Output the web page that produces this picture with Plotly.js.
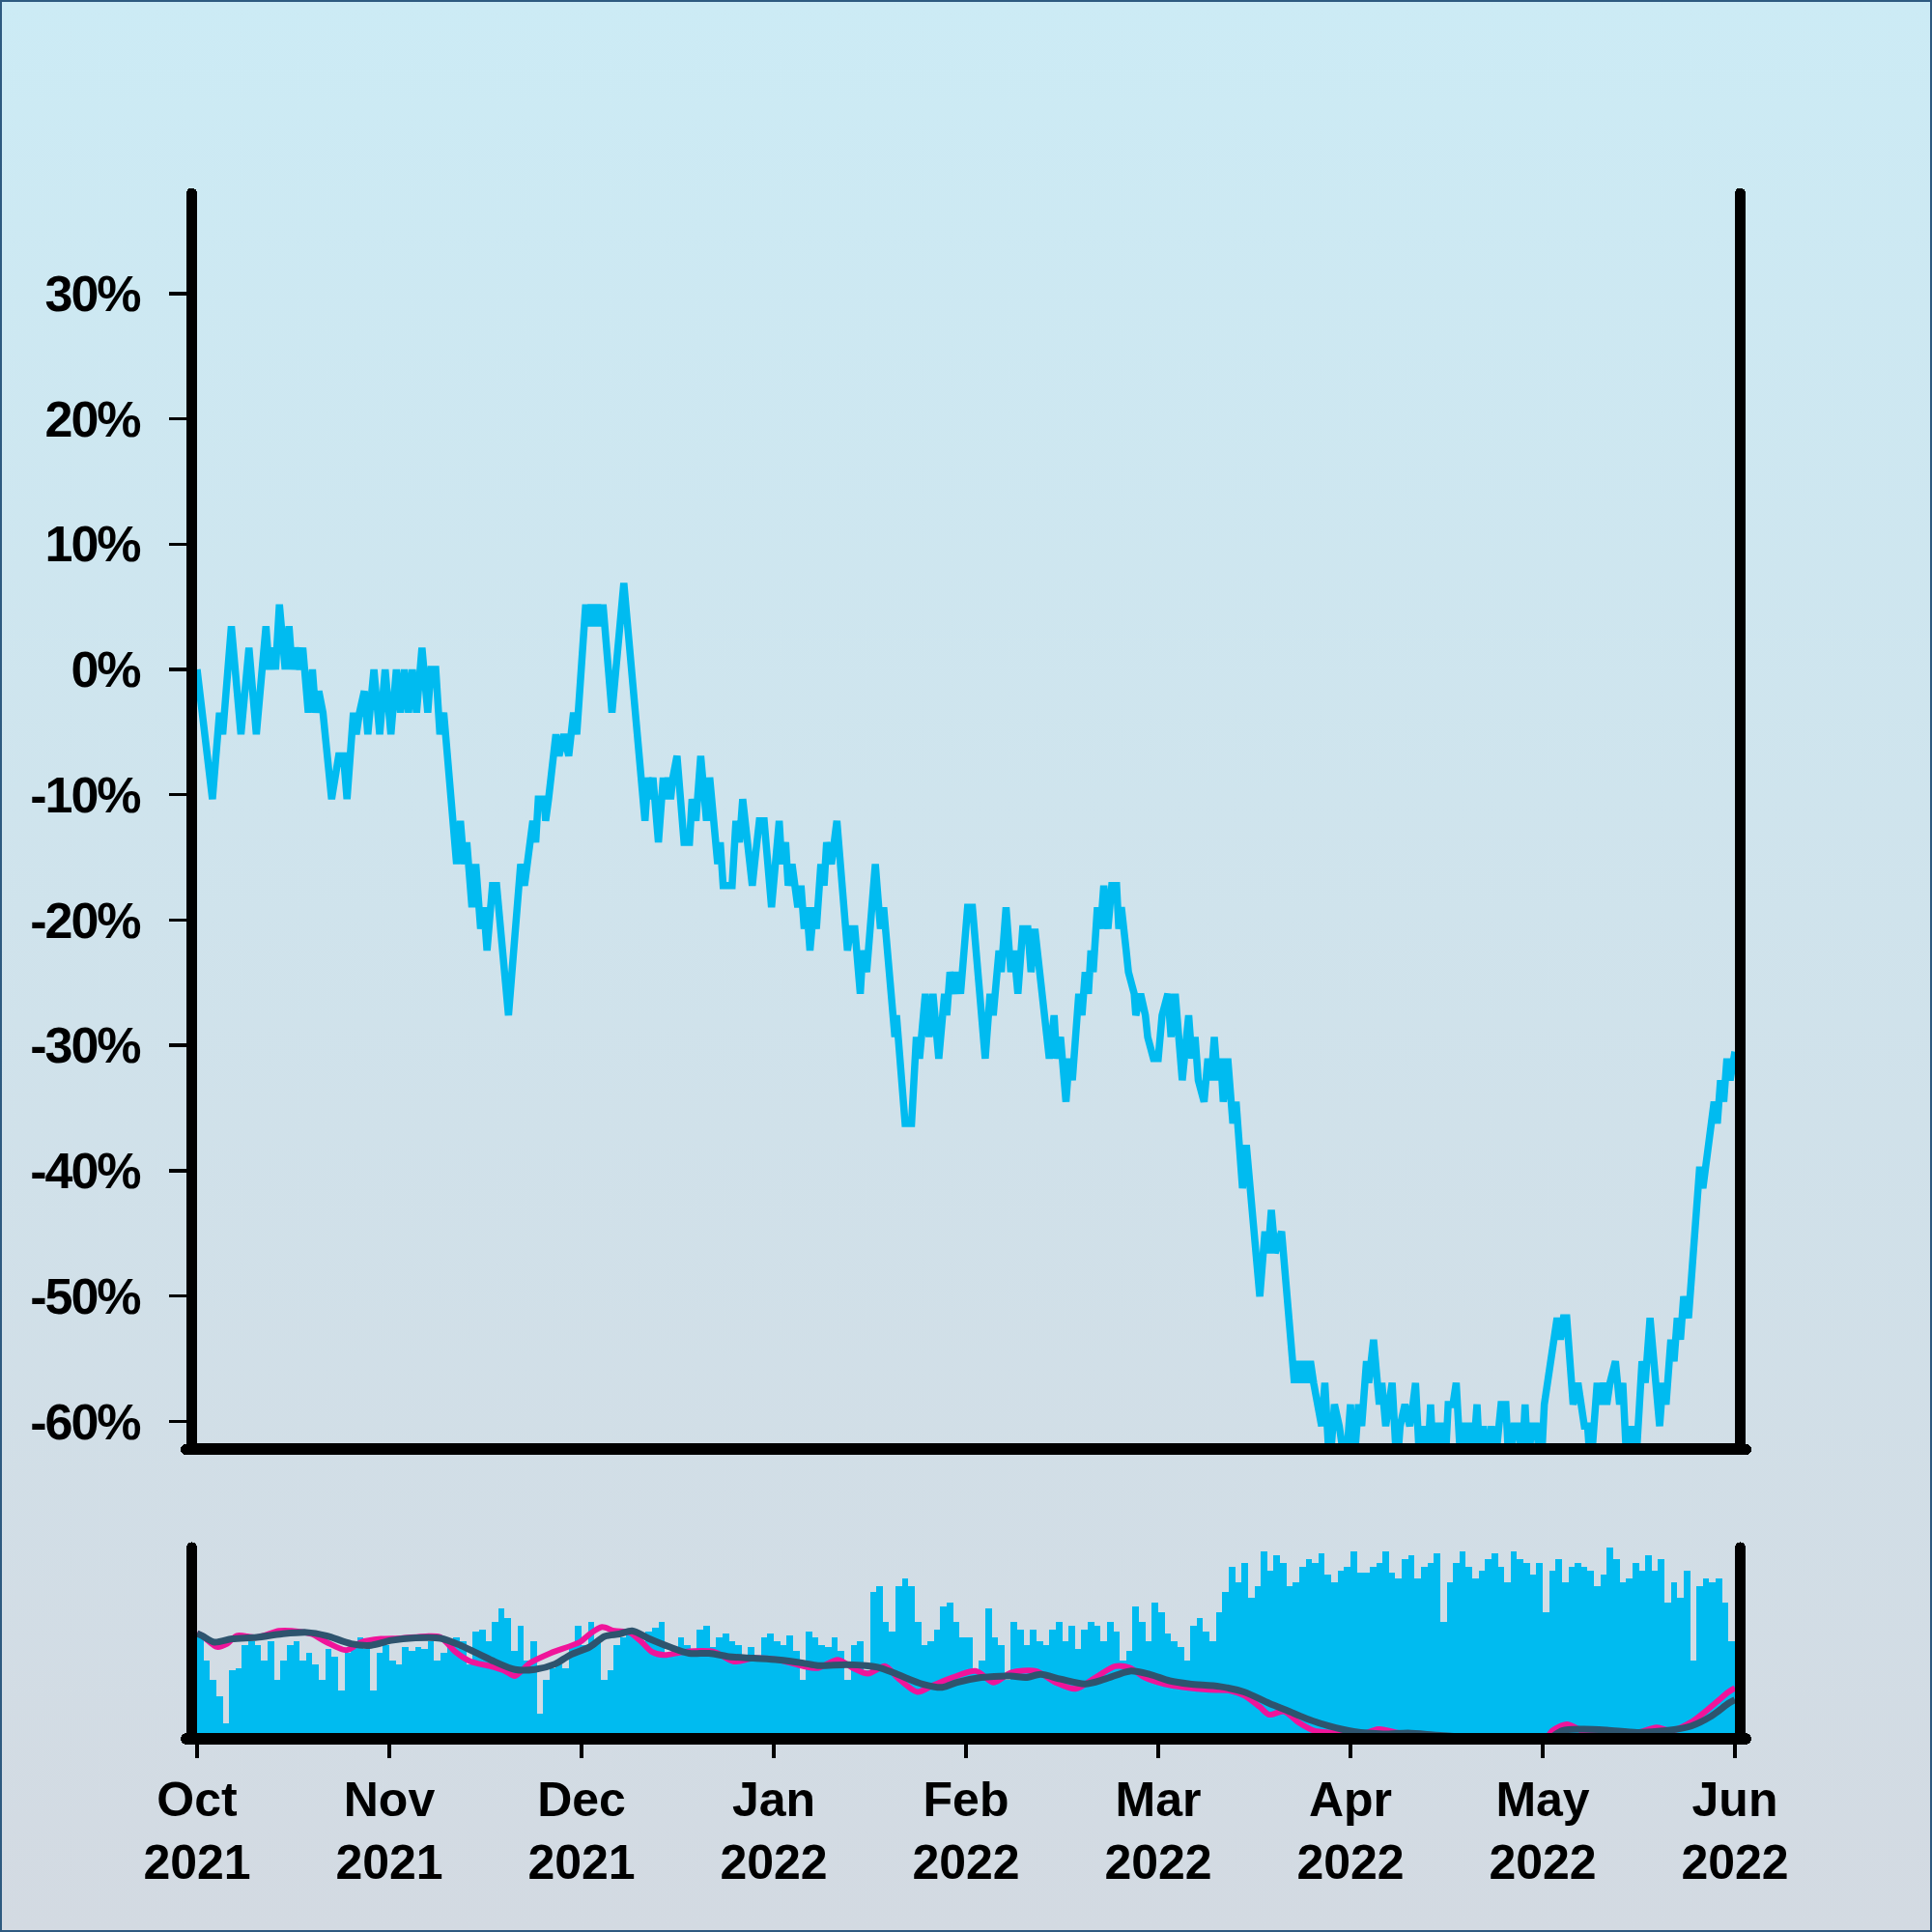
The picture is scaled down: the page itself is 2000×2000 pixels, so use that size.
<!DOCTYPE html>
<html><head><meta charset="utf-8">
<script src="https://cdn.plot.ly/plotly-3.0.1.min.js"></script>
<style>
html,body{margin:0;padding:0;}
#wrap{width:2000px;height:2000px;background:linear-gradient(to bottom,#CCEBF5 0%,#D3DAE2 100%);box-shadow:inset 0 0 0 2px #2E5A80;position:relative;}
#chart{width:2000px;height:2000px;}
.ytick text{letter-spacing:-2px;}
.xtick text{letter-spacing:-3.5px;}
path.xlines-above,path.ylines-above,path.xlines-below,path.ylines-below{stroke-linecap:round;}
</style></head>
<body><div id="wrap"><div id="chart"></div></div>
<script>
const monthTickDays = [0,30,60,90,120,150,180,210,240];
const monthTickLabels = ['Oct<br>2021','Nov<br>2021','Dec<br>2021','Jan<br>2022','Feb<br>2022','Mar<br>2022','Apr<br>2022','May<br>2022','Jun<br>2022'];
const pctTickVals = [30,20,10,0,-10,-20,-30,-40,-50,-60];
const pctTickText = ['30%','20%','10%','0%','-10%','-20%','-30%','-40%','-50%','-60%'];

// [day since 1 Oct, % change]
const pricePoints = [
[0,0],[2.4,-10.35],[3.5,-3.45],[4,-5.18],[5.35,3.45],[6.85,-5.18],[8.1,1.73],[9.25,-5.18],[10.75,3.45],[11.25,0],[11.75,1.73],[12.25,0],[12.85,5.18],[13.75,0],[14.35,3.45],[14.85,0],[15.35,1.73],[16,0],[16.5,1.73],[17.35,-3.45],[18,0],[18.5,-3.45],[19,-1.73],[19.65,-3.45],[21,-10.35],[21.5,-8.63],[22.1,-6.9],[22.85,-6.9],[23.4,-10.35],[24.4,-3.45],[24.85,-5.18],[25.35,-3.45],[26.1,-1.73],[26.65,-5.18],[27.6,0],[28.5,-5.18],[29.35,0],[30.25,-5.18],[31.1,0],[31.75,-3.45],[32.35,0],[33,-3.45],[33.6,0],[34.25,-3.45],[35.1,1.73],[36,-3.45],[36.5,0],[37.25,0],[37.9,-5.18],[38.5,-3.45],[40.5,-15.53],[41.1,-12.08],[41.65,-15.53],[42.1,-13.8],[42.9,-18.98],[43.5,-15.53],[44.25,-20.7],[44.75,-18.98],[45.25,-22.43],[46.1,-17.25],[46.75,-17.25],[48.6,-27.6],[50.5,-15.53],[51.1,-17.25],[51.6,-15.53],[52.4,-12.08],[52.85,-13.8],[53.25,-10.35],[54.15,-10.35],[54.4,-12.08],[54.85,-10.35],[56,-5.18],[56.5,-6.9],[57.25,-5.18],[58,-6.9],[58.75,-3.45],[59.25,-5.18],
[60.65,5.18],[61,3.45],[61.5,5.18],[62,3.45],[62.5,5.18],[63,3.45],[63.35,5.18],[64.75,-3.45],[66.6,6.9],[69.9,-12.08],[70.35,-8.63],[70.75,-10.35],[71.15,-8.63],[72,-13.8],[72.75,-8.63],[73.15,-10.35],[73.5,-8.63],[73.9,-10.35],[74.25,-8.63],[74.9,-6.9],[76,-13.8],[76.85,-13.8],[77.25,-10.35],[77.85,-12.08],[78.6,-6.9],[79.5,-12.08],[80,-8.63],[81.25,-15.53],[81.65,-13.8],[82.1,-17.25],[83.5,-17.25],[84.1,-12.08],[84.65,-13.8],[85.15,-10.35],[86.65,-17.25],[87,-15.53],[87.75,-12.08],[88.5,-12.08],[89.65,-18.98],[90.85,-12.08],[91.25,-15.53],[91.85,-13.8],[92.25,-17.25],[92.85,-15.53],[93.75,-18.98],[94.25,-17.25],[94.75,-20.7],[95.15,-18.98],[95.65,-22.43],[96.25,-18.98],[96.65,-20.7],[97.35,-15.53],[97.85,-17.25],[98.25,-13.8],[99,-15.53],[99.85,-12.08],[101.5,-22.43],[102,-20.7],[102.65,-20.7],[103.5,-25.88],[103.9,-22.43],[104.5,-24.15],[105.85,-15.53],[106.65,-20.7],[107.15,-18.98],[108.9,-29.33],[109.15,-27.6],[110.5,-36.23],[111.5,-36.23],[112.25,-29.33],[112.75,-31.05],[113.65,-25.88],[114.25,-29.33],[114.85,-25.88],[115.75,-31.05],[116.65,-25.88],[117,-27.6],[117.5,-24.15],[118.15,-25.88],[118.65,-24.15],[119.15,-25.88],
[120.25,-18.98],[121,-18.98],[123,-31.05],[123.75,-25.88],[124.25,-27.6],[125.15,-22.43],[125.5,-24.15],[126.25,-18.98],[127,-24.15],[127.5,-22.43],[128.1,-25.88],[128.85,-20.7],[129.65,-20.7],[130.15,-24.15],[130.75,-20.7],[131.75,-25.88],[132.15,-27.6],[133,-31.05],[133.75,-27.6],[134.15,-31.05],[134.75,-29.33],[135.6,-34.5],[136.1,-31.05],[136.6,-32.78],[137.6,-25.88],[138.1,-27.6],[138.6,-24.15],[139.1,-25.88],[139.5,-22.43],[139.85,-24.15],[140.5,-18.98],[141,-20.7],[141.5,-17.25],[142.15,-20.7],[142.75,-17.25],[143.5,-17.25],[143.85,-20.7],[144.25,-18.98],[145,-22.43],[145.35,-24.15],[146.25,-25.88],[146.5,-27.6],[147.25,-25.88],[148,-27.6],[148.35,-29.33],[149.25,-31.05],[150,-31.05],[150.6,-27.6],[151.5,-25.88],[152,-29.33],[152.65,-25.88],[153.75,-32.78],[154.75,-27.6],[155.25,-31.05],[155.75,-29.33],[156.25,-32.78],[157.15,-34.5],[157.75,-31.05],[158.25,-32.78],[158.75,-29.33],[159.25,-32.78],[159.75,-31.05],[160.15,-34.5],[160.85,-31.05],[161.65,-36.23],[162.15,-34.5],[163.15,-41.4],[163.75,-37.95],[165.85,-50.03],[166.65,-44.85],[167.15,-46.58],[167.65,-43.13],[168.25,-46.58],[169.25,-44.85],[171.25,-56.93],[171.75,-55.2],[172.25,-56.93],[172.75,-55.2],[173.25,-56.93],[173.75,-55.2],[174.25,-56.93],[174.75,-58.65],[175.5,-60.38],[176,-56.93],[176.75,-63.83],[177.5,-58.65],[178.25,-60.38],
[179.25,-63.83],[180,-58.65],[180.5,-63.83],[181.25,-58.65],[181.75,-60.38],[182.5,-55.2],[182.85,-56.93],[183.6,-53.48],[184.5,-58.65],[184.9,-56.93],[185.2,-58.65],[185.5,-60.38],[186,-58.65],[186.5,-56.93],[187.25,-63.83],[187.75,-60.38],[188.5,-58.65],[189.25,-60.38],[189.75,-58.65],[190.15,-56.93],[190.85,-63.83],[191.5,-60.38],[192,-63.83],[192.5,-58.65],[193,-63.83],[193.5,-60.38],[194.25,-60.38],[194.75,-63.83],[195.25,-58.65],[196,-58.65],[196.5,-56.93],[197.25,-63.83],[197.75,-60.38],[198.5,-60.38],[199,-63.83],[199.75,-58.65],[200.25,-63.83],[200.75,-60.38],[201.25,-63.83],[202,-60.38],[202.5,-63.83],[203,-60.38],[203.5,-58.65],[204.25,-58.65],[204.75,-63.83],[205.5,-60.38],[206.25,-60.38],[206.75,-63.83],[207.25,-58.65],[207.75,-63.83],[208.25,-60.38],[209,-60.38],[209.75,-63.83],[210.25,-58.65],[210.75,-56.93],[211.25,-55.2],[211.75,-53.48],[212.25,-51.75],[212.75,-53.48],[213.25,-51.75],[213.75,-51.75],[214.25,-55.2],[214.75,-58.65],[215.5,-56.93],[216,-58.65],[216.5,-60.38],[217,-60.38],[217.5,-63.83],[218.5,-56.93],[219,-58.65],[219.5,-56.93],[220,-58.65],[220.5,-56.93],[221.35,-55.2],[222,-58.65],[222.5,-56.93],[223.15,-63.83],[223.9,-60.38],[224.5,-63.83],[225.5,-55.2],[226,-56.93],[226.75,-51.75],[228.25,-60.38],[228.75,-56.93],[229.25,-58.65],[230,-53.48],[230.5,-55.2],[231,-51.75],[231.5,-53.48],[232,-50.03],[232.75,-51.75],[234.5,-39.68],[235,-41.4],[235.5,-39.68],[236.75,-34.5],[237.25,-36.23],[237.75,-32.78],[238.25,-34.5],[238.75,-31.05],[239.25,-32.78],[240,-30.5]
];

// daily volume (relative units)
const volume = [
53,40,30,22,8,35,36,48,50,48,40,50,30,40,48,50,40,44,38,30,46,42,25,44,48,52,46,25,44,48,
40,38,47,45,47,46,50,40,44,48,52,50,38,55,56,50,60,67,62,45,58,40,50,13,30,36,38,36,48,58,
48,60,50,30,35,48,52,56,52,50,55,57,60,44,47,52,48,45,56,58,47,52,54,50,48,42,47,40,52,54,
50,48,53,45,30,55,52,48,47,52,45,30,48,50,35,75,78,60,55,78,82,78,60,48,50,56,68,70,60,52,
52,35,40,67,52,48,30,60,56,48,56,50,48,56,60,50,58,46,56,60,58,50,60,55,40,45,68,60,50,70,
65,54,50,47,40,58,62,55,50,65,75,88,80,90,72,78,96,86,94,90,78,80,88,92,90,95,84,80,86,88,
96,85,85,88,90,96,85,82,92,94,82,88,90,95,60,80,90,96,88,82,86,92,95,88,80,96,92,90,84,90,
65,86,92,80,88,90,88,86,78,84,98,92,80,82,90,86,94,86,92,70,80,72,86,40,78,82,80,82,70,50
];

// moving averages, [day, level on the lower panel scale]
const fastMA = [
[0,54],[0.8,52.8],[3.1,47.1],[4.7,48.7],[6.2,52.8],[9.3,52],[12.8,55.3],[14.75,55.3],[17.85,53.7],[20.2,49.5],[23.3,45.4],[25.6,49.5],[28.7,51.2],[31.8,51.5],[35.7,52.5],[38,52],[40.3,44.6],[42.7,39.6],[45.8,37.2],[48.1,34.7],[49.6,32.2],[51.95,38.8],[55.1,43.8],[59.7,49.5],[61.3,53.7],[63.2,57.3],[65.1,55.3],[67.5,54.5],[69.4,49.5],[70.95,44.6],[72.9,42.9],[76,44.6],[80.65,44.6],[83.75,39.6],[86.85,41.3],[90.7,40.5],[94.6,37.2],[96.9,36.3],[100,40.5],[102.35,36.3],[104.7,33.4],[107.4,37.2],[109.3,31.4],[112.4,24],[114.8,27.3],[117.85,31.4],[121.6,34.7],[124.3,28.9],[127,33.9],[130.9,34.7],[134,28.9],[137.1,25.6],[140.2,31.4],[143.3,37.2],[145.6,36.3],[147.9,31.4],[151,28.1],[154.1,26.4],[158,25.1],[161.1,24.8],[163.4,22.3],[165.8,16.5],[167.3,12.4],[169.6,14.1],[171.95,8.3],[174.3,4.2],[177.4,3],[180.5,0.9],[184.4,5],[187.5,3],[190.6,1.7],[193,-2],[197,-4],[207,-4],[210.7,1],[211.5,4.2],[213.8,7.5],[216.15,4.2],[220,4.2],[223.9,2.5],[227.8,5.8],[230.1,4.2],[233.2,8.6],[236.3,16.5],[239,24],[240,26]
];
const slowMA = [
[0,54],[0.8,52.8],[2.7,49.5],[5.45,51.2],[9.3,52],[13.2,53.7],[17.1,54.5],[20.2,52.8],[24.05,48.7],[27.2,47.9],[30.3,50.4],[34.1,51.7],[38,51.5],[41.1,47.9],[45.8,40.5],[49.6,35.5],[52.7,35.5],[55.85,38.3],[58.2,42.9],[61.3,47.1],[63.6,52.5],[65.9,53.7],[67.9,55.3],[70.6,51.2],[73.7,47.1],[76.8,43.8],[79.9,43.8],[83,42.1],[86.85,41.3],[90.7,40.5],[94.6,38.8],[96.9,37.5],[101.6,38],[106.2,36.7],[109.3,33],[113.2,28.1],[116.3,26.4],[118.6,28.9],[122.35,31.4],[127,32.2],[129.3,31.4],[131.65,33],[134.75,30.6],[138.6,28.1],[141.7,30.6],[145.6,34.7],[148.7,33],[151.8,29.7],[154.9,28.1],[159.6,26.8],[163.4,24],[167.3,18.2],[170.4,14.1],[173.5,9.9],[176.6,6.6],[180.5,3.7],[185.1,2.5],[189,3],[192.9,2],[196.8,0.9],[200.6,-4],[209,-4],[213.05,4.2],[216.15,5],[220,4.5],[224.7,3.3],[229.3,4.2],[233.2,6.6],[236.3,11.6],[239,18.2],[240,20]
];

const blue = '#00BBF0', pink = '#F0149A', slate = '#2E546E';
const yFont = {family:'Liberation Sans, Arial, sans-serif', size:52, color:'#000000', weight:'bold'};
const xFont = {family:'Liberation Sans, Arial, sans-serif', size:50, color:'#000000', weight:'bold'};

const traces = [
  {type:'bar', x: volume.map((_, i) => i + 0.5), y: volume, width: 1, xaxis:'x2', yaxis:'y2',
   marker:{color: blue, line:{width:0}}},
  {type:'scatter', mode:'lines', x: fastMA.map(p => p[0]), y: fastMA.map(p => p[1]), xaxis:'x2', yaxis:'y3',
   line:{color: pink, width:6, shape:'spline', smoothing:0.8}},
  {type:'scatter', mode:'lines', x: slowMA.map(p => p[0]), y: slowMA.map(p => p[1]), xaxis:'x2', yaxis:'y3',
   line:{color: slate, width:7, shape:'spline', smoothing:0.8}},
  {type:'scatter', mode:'lines', x: pricePoints.map(p => p[0]), y: pricePoints.map(p => p[1]), xaxis:'x', yaxis:'y',
   line:{color: blue, width:7.5, shape:'linear'}}
];

const layout = {
  width:2000, height:2000,
  margin:{l:204, r:204, t:200, b:206, pad:0},
  paper_bgcolor:'rgba(0,0,0,0)', plot_bgcolor:'rgba(0,0,0,0)',
  showlegend:false, bargap:0,
  xaxis:{anchor:'y', domain:[0,1], range:[0,240], showline:true, linecolor:'#000', linewidth:12,
         ticks:'', showticklabels:false, showgrid:false, zeroline:false},
  yaxis:{anchor:'x', domain:[0.1879,1], range:[-61.78,38], tickmode:'array', tickvals:pctTickVals, ticktext:pctTickText,
         ticks:'outside', ticklen:18, tickwidth:3.5, tickcolor:'#000', showline:true, mirror:true, linecolor:'#000', linewidth:11,
         showgrid:false, zeroline:false, tickfont:yFont, ticklabelstandoff:20},
  xaxis2:{anchor:'y2', domain:[0,1], range:[0,240], tickmode:'array', tickvals:monthTickDays, ticktext:monthTickLabels,
          ticks:'outside', ticklen:14, tickwidth:3.5, tickcolor:'#000', showline:true, linecolor:'#000', linewidth:12,
          showgrid:false, zeroline:false, tickfont:xFont, ticklabelstandoff:0},
  yaxis2:{anchor:'x2', domain:[0,0.1205], range:[3,98], showline:true, mirror:true, linecolor:'#000', linewidth:11,
          ticks:'', showticklabels:false, showgrid:false, zeroline:false},
  yaxis3:{anchor:'x2', overlaying:'y2', range:[3,98], visible:false}
};

Plotly.newPlot('chart', traces, layout, {staticPlot:true});
</script>
</body></html>
